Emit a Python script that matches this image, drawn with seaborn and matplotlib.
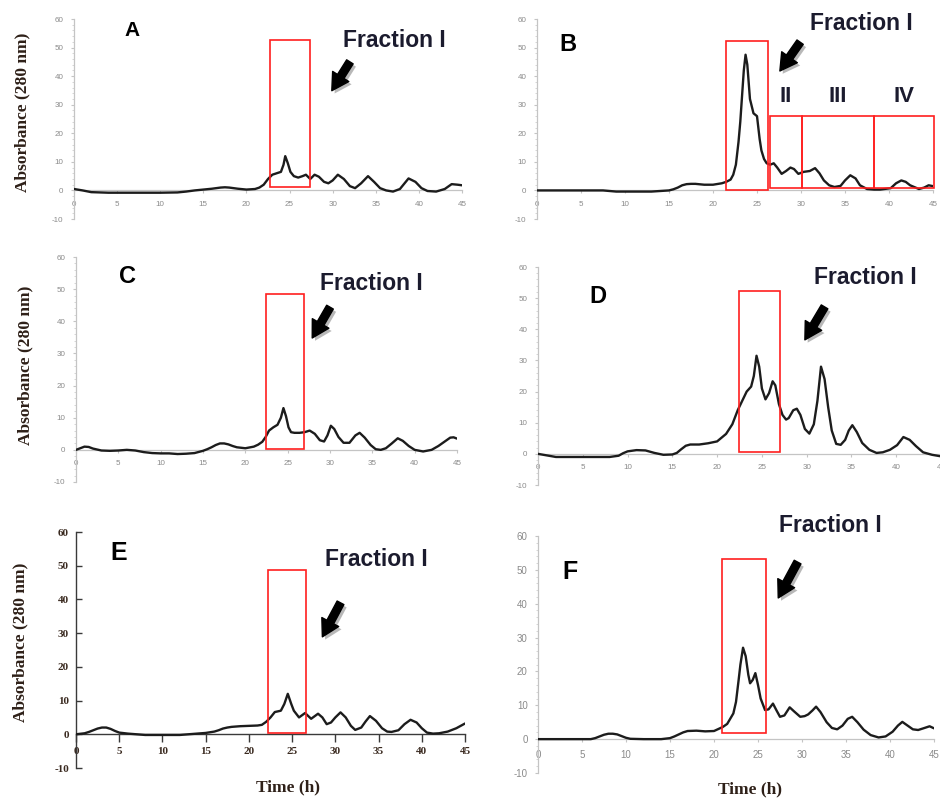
import matplotlib
matplotlib.use("Agg")
import matplotlib.pyplot as plt
import matplotlib.patheffects as pe
from matplotlib.patches import Rectangle, FancyArrowPatch
from matplotlib.ticker import MultipleLocator
import seaborn as sns

# ---------------- elution profiles (time in h, absorbance at 280 nm) ----------------
time_a = [0, 1, 2, 4, 6, 8, 10, 12, 13, 14, 15, 16, 17, 17.5, 18, 19, 20, 21, 21.5, 22,
          22.5, 23, 23.5, 24, 24.3, 24.5, 24.8, 25.1, 25.5, 26, 26.5, 26.9, 27.4, 27.9, 28.4,
          29, 29.5, 30, 30.6, 31.3, 32, 32.6, 33.3, 34.1, 34.8, 35.5, 36.2, 37, 37.8, 38.8,
          39.6, 40.3, 41, 42, 43, 43.8, 44.5, 45]
abs_a = [0.5, 0, -0.6, -0.8, -0.8, -0.8, -0.8, -0.7, -0.4, 0, 0.3, 0.6, 1.0, 1.1, 1.0, 0.6,
         0.3, 0.5, 1.0, 2.0, 4.0, 5.5, 6.0, 6.5, 9.0, 12.0, 9.5, 6.5, 5.0, 4.5, 5.0, 5.5, 4.0,
         5.5, 4.8, 3.0, 2.5, 3.5, 5.5, 4.0, 1.5, 0.8, 2.5, 5.0, 3.0, 0.8, 0.0, -0.4, 0.5, 4.2,
         3.0, 0.8, -0.2, -0.4, 0.5, 2.2, 2.0, 1.8]

time_b = [0, 3, 6, 7.5, 9, 11, 13, 14, 15, 15.5, 16, 16.5, 17, 17.5, 18, 19, 20, 21, 21.5, 22,
          22.3, 22.6, 22.9, 23.1, 23.3, 23.5, 23.7, 23.9, 24.2, 24.6, 25.0, 25.3, 25.5, 25.8,
          26.1, 26.5, 26.9, 27.3, 27.8, 28.3, 28.8, 29.2, 29.7, 30.3, 31, 31.6, 32.1, 32.6,
          33.2, 33.8, 34.5, 35, 35.6, 36.2, 36.7, 37.5, 38.3, 39, 40.2, 40.8, 41.4, 41.9, 42.4,
          43.4, 44, 44.5, 45]
abs_b = [0, 0, 0, 0, -0.4, -0.4, -0.4, -0.2, 0, 0.4, 1.0, 1.8, 2.2, 2.3, 2.3, 2.0, 2.0, 2.5,
         3.0, 3.8, 5.5, 9.0, 17.0, 24.0, 33.0, 42.0, 47.5, 44.0, 32.0, 27.0, 26.0, 18.0, 14.0,
         11.0, 9.5, 9.0, 9.5, 8.0, 5.8, 6.8, 8.0, 7.5, 5.8, 6.5, 6.8, 7.8, 6.0, 3.5, 1.8, 1.2,
         1.6, 3.5, 5.3, 4.2, 1.8, 0.5, 0.3, 0.3, 0.8, 2.5, 3.5, 3.0, 1.8, 0.5, 1.0, 1.8, 1.5]

time_c = [0, 0.5, 1, 1.5, 2, 3, 4, 5, 6, 7, 8, 9, 10, 11, 12, 13, 14, 15, 15.5, 16, 16.5, 17,
          17.5, 18, 18.5, 19, 20, 21, 21.5, 22, 22.4, 22.8, 23.3, 23.8, 24.2, 24.5, 24.8, 25.1,
          25.4, 25.8, 26.4, 27, 27.6, 28.2, 28.8, 29.3, 29.7, 30.1, 30.5, 31, 31.6, 32.3, 33,
          33.5, 34.1, 34.8, 35.4, 36, 36.6, 37.3, 38, 38.6, 39.3, 40, 41, 42, 42.8, 43.5, 44.2,
          44.6, 45]
abs_c = [0, 0.5, 1.0, 0.9, 0.4, -0.2, -0.3, -0.2, 0, -0.2, -0.7, -1.0, -1.1, -1.1, -1.3, -1.2,
         -1.0, -0.3, 0.2, 0.8, 1.5, 2.0, 2.0, 1.7, 1.2, 0.8, 0.5, 1.0, 1.6, 2.5, 4.0, 6.0, 7.0,
         7.8, 10.0, 13.0, 10.5, 7.0, 5.5, 5.3, 5.3, 5.5, 6.0, 5.0, 3.0, 2.6, 4.5, 7.5, 6.5, 4.0,
         2.2, 2.2, 4.5, 5.3, 3.8, 1.5, 0.2, 0.0, 0.5, 2.0, 3.6, 2.8, 1.2, 0.0, -0.5, 0.0, 1.2,
         2.5, 3.8, 3.9, 3.5]

time_d = [0, 1, 2, 4, 6, 8, 9, 9.5, 10, 11, 12, 13, 14, 15, 15.5, 16, 16.5, 17, 18, 19, 20, 21,
          21.7, 22.3, 22.8, 23.3, 23.8, 24.1, 24.4, 24.7, 25.0, 25.4, 25.8, 26.2, 26.5, 26.9,
          27.3, 27.7, 28.0, 28.5, 28.9, 29.3, 29.8, 30.3, 30.8, 31.2, 31.6, 32.0, 32.4, 32.8,
          33.3, 33.8, 34.3, 34.7, 35.1, 35.6, 36.2, 37, 37.8, 38.5, 39.3, 40.1, 40.8, 41.5,
          42.2, 43, 44, 45]
abs_d = [0, -0.5, -1, -1, -1, -1, -0.6, 0.2, 0.8, 1.2, 1.1, 0.3, -0.3, -0.2, 0.3, 1.5, 2.6,
         3.0, 3.0, 3.4, 4.0, 6.4, 9.5, 14.0, 17.0, 20.0, 21.6, 25.0, 31.5, 28.0, 21.0, 17.5,
         19.5, 23.3, 22.0, 16.0, 12.5, 11.0, 11.5, 14.0, 14.5, 12.5, 8.0, 6.5, 9.5, 17.0, 28.0,
         24.0, 15.0, 7.5, 3.2, 2.9, 4.5, 7.5, 9.2, 7.0, 3.5, 1.3, 0.3, 0.5, 1.3, 2.8, 5.4, 4.5,
         2.5, 0.5, -0.3, -0.8]

time_e = [0, 1, 1.5, 2, 2.5, 3, 3.5, 4, 4.5, 5, 6, 7, 8, 10, 12, 14, 15, 16, 16.5, 17, 17.5,
          18, 19, 20, 21, 21.5, 22, 22.5, 23, 23.7, 24.1, 24.5, 24.9, 25.2, 25.8, 26.5, 27.2,
          28, 28.5, 29, 29.5, 30, 30.6, 31.2, 31.8, 32.3, 33, 33.5, 34.0, 34.7, 35.4, 36, 36.5,
          37.3, 38, 38.7, 39.4, 40, 40.6, 41.3, 42, 43, 44, 45]
abs_e = [0, 0.3, 0.7, 1.2, 1.7, 2.0, 2.0, 1.6, 1.0, 0.5, 0.2, 0, -0.2, -0.2, -0.2, 0.2, 0.4,
         0.8, 1.2, 1.7, 2.0, 2.2, 2.4, 2.5, 2.6, 2.8, 3.7, 5.0, 6.6, 7.0, 9.0, 12.0, 9.0, 7.0,
         5.0, 6.3, 4.6, 6.1, 5.0, 3.0, 3.5, 5.0, 6.5, 5.0, 2.5, 1.3, 2.0, 3.8, 5.4, 4.0, 1.8,
         0.8, 0.7, 1.2, 3.0, 4.3, 3.5, 1.8, 0.5, 0.2, 0.3, 0.8, 1.8, 3.2]

time_f = [0, 2, 4, 6, 6.5, 7, 7.5, 8, 8.5, 9, 9.5, 10, 10.5, 12, 14, 15, 15.5, 16, 16.5, 17, 18,
          19, 20, 21, 21.5, 22.2, 22.5, 22.8, 23.0, 23.3, 23.6, 23.9, 24.1, 24.4, 24.7, 25.0,
          25.3, 25.8, 26.2, 26.7, 27.1, 27.5, 28.0, 28.6, 29.1, 29.8, 30.3, 30.7, 31.2, 31.6,
          32.1, 32.8, 33.4, 34.0, 34.6, 35.2, 35.7, 36.3, 37.0, 37.8, 38.7, 39.5, 40.3, 40.9,
          41.4, 42.0, 42.6, 43.2, 43.8, 44.5, 45]
abs_f = [0, 0, 0, 0, 0.3, 0.8, 1.3, 1.6, 1.6, 1.4, 0.9, 0.4, 0.1, 0, 0, 0.3, 0.8, 1.4, 2.0,
         2.4, 2.5, 2.3, 2.4, 3.6, 4.5, 7.6, 11.0, 17.5, 22.0, 27.0, 24.5, 19.0, 16.5, 17.5,
         19.5, 16.0, 12.0, 8.6, 8.8, 10.5, 8.5, 6.6, 7.0, 9.4, 8.2, 6.6, 6.8, 7.3, 8.5, 9.6,
         8.0, 5.0, 3.3, 2.9, 4.0, 6.0, 6.6, 5.0, 2.8, 1.2, 0.5, 0.8, 2.2, 4.0, 5.1, 4.0, 2.9,
         2.7, 3.2, 3.8, 3.2]

profiles = {
    "A": (time_a, abs_a), "B": (time_b, abs_b), "C": (time_c, abs_c),
    "D": (time_d, abs_d), "E": (time_e, abs_e), "F": (time_f, abs_f),
}

# collected fractions: (label, t_start, t_end, y_low, y_high)
fractions_a = [("I", 22.7, 27.4, 1.3, 52.5)]
fractions_b = [("I", 21.5, 26.2, 0.0, 52.3), ("II", 26.5, 30.1, 0.7, 26.1),
               ("III", 30.1, 38.3, 0.7, 26.1), ("IV", 38.3, 45.1, 0.7, 26.1)]
fractions_c = [("I", 22.4, 26.9, 0.3, 48.5)]
fractions_d = [("I", 22.4, 27.0, 0.6, 52.3)]
fractions_e = [("I", 22.2, 26.6, 0.3, 48.7)]
fractions_f = [("I", 20.9, 25.9, 1.7, 53.2)]
fractions = {"A": fractions_a, "B": fractions_b, "C": fractions_c,
             "D": fractions_d, "E": fractions_e, "F": fractions_f}

time_ticks = [0, 5, 10, 15, 20, 25, 30, 35, 40, 45]
abs_ticks = [-10, 0, 10, 20, 30, 40, 50, 60]

# ---------------- layout ----------------
sns.set_theme(style="white")
plt.rcParams["font.family"] = ["Liberation Sans", "DejaVu Sans"]
plt.rcParams["axes.unicode_minus"] = False

W, H = 940, 798
fig = plt.figure(figsize=(W / 100, H / 100), dpi=100)
fig.patch.set_facecolor("white")

# axes frames in pixels: x of t=0, x of t=45, y of A=60, y of A=-10
frames = {
    "A": (74, 462, 19, 219), "B": (537, 933, 19, 219),
    "C": (76, 457, 257, 482), "D": (538, 941, 267, 485),
    "E": (76, 465, 532, 768), "F": (538, 934, 536, 773),
}

# annotation placement in data units
letter_pos = {"A": (6.7, 55.9, 15), "B": (3.5, 51.2, 17), "C": (6.1, 53.8, 17),
              "D": (6.7, 50.4, 17), "E": (4.9, 53.8, 18), "F": (3.6, 49.4, 18)}
title_pos = {"A": (37.1, 52.4), "B": (36.9, 58.6), "C": (34.9, 51.9),
             "D": (36.6, 56.5), "E": (34.8, 51.7), "F": (33.2, 63.2)}
arrow_pos = {"A": ((32.0, 45.0), (29.9, 34.9)), "B": ((29.9, 51.9), (27.6, 41.8)),
             "C": ((30.0, 44.4), (27.9, 34.8)), "D": ((32.0, 47.2), (29.8, 36.6)),
             "E": ((30.6, 39.0), (28.5, 28.9)), "F": ((29.5, 52.3), (27.3, 41.7))}
roman_y = 32.7

TXT = "#1b1b2e"
LINE = "#1c1c1c"
RED = "#ff1f1f"


def make_axes(key):
    x0, x1, ytop, ybot = frames[key]
    ax = fig.add_axes([x0 / W, 1 - ybot / H, (x1 - x0) / W, (ybot - ytop) / H])
    ax.set_xlim(0, 45)
    ax.set_ylim(-10, 60)
    ax.patch.set_alpha(0)
    for s in ("top", "right"):
        ax.spines[s].set_visible(False)
    ax.spines["bottom"].set_position(("data", 0))
    ax.set_xticks(time_ticks)
    ax.set_yticks(abs_ticks)
    strong = key == "E"
    col = "#3a3a3a" if strong else "#c4c4c4"
    for s in ("left", "bottom"):
        ax.spines[s].set_color(col)
        ax.spines[s].set_linewidth(1.0 if strong else 0.9)
    if strong:
        ax.tick_params(axis="x", bottom=True, direction="out", length=6, width=1,
                       color=col, pad=3, labelsize=8, labelcolor="#3a2a20")
        ax.tick_params(axis="y", left=True, direction="in", length=4, width=1,
                       color=col, pad=5, labelsize=8, labelcolor="#3a2a20")
        for lab in ax.get_xticklabels() + ax.get_yticklabels():
            lab.set_family(["Liberation Serif", "DejaVu Serif"])
            lab.set_fontweight("bold")
    else:
        size = 7 if key == "F" else 5.8
        ax.yaxis.set_minor_locator(MultipleLocator(2))
        ax.tick_params(axis="x", bottom=True, direction="out", length=2.5, width=0.8,
                       color=col, pad=5, labelsize=size, labelcolor="#8a8a8a")
        ax.tick_params(axis="y", which="major", left=True, direction="out", length=2.5,
                       width=0.8, color=col, pad=5, labelsize=size, labelcolor="#8a8a8a")
        ax.tick_params(axis="y", which="minor", left=True, direction="out", length=1.5,
                       width=0.6, color="#d0d0d0")
    ax.set_xlabel("")
    ax.set_ylabel("")
    return ax


for key, (t, a) in profiles.items():
    ax = make_axes(key)
    sns.lineplot(x=t, y=a, ax=ax, color=LINE, linewidth=1.7, errorbar=None, sort=False,
                 zorder=3)
    ax.set_xlabel("")
    ax.set_ylabel("")

    for lab, t0, t1, y0, y1 in fractions[key]:
        ax.add_patch(Rectangle((t0, y0), t1 - t0, y1 - y0, fill=False, edgecolor=RED,
                               linewidth=1.2, clip_on=False, zorder=4))
        if lab != "I":
            ax.text((t0 + t1) / 2, roman_y, lab, ha="center", va="center", fontsize=16,
                    fontweight="bold", color=TXT, clip_on=False)

    lx, ly, ls = letter_pos[key]
    ax.text(lx, ly, key, ha="center", va="center", fontsize=ls, fontweight="bold",
            color="black", clip_on=False)
    tx, ty = title_pos[key]
    ax.text(tx, ty, "Fraction I", ha="center", va="center", fontsize=16.5,
            fontweight="bold", color=TXT, clip_on=False)

    tail, tip = arrow_pos[key]
    arr = FancyArrowPatch(tail, tip, transform=ax.transData,
                          arrowstyle="simple,head_length=1.1,head_width=1.25,tail_width=0.5",
                          mutation_scale=11, color="black", shrinkA=0, shrinkB=0,
                          clip_on=False, zorder=5)
    arr.set_path_effects([pe.SimplePatchShadow(offset=(2, -2), shadow_rgbFace="0.45",
                                               alpha=0.5), pe.Normal()])
    ax.add_patch(arr)


def px(x, y):
    return x / W, 1 - y / H


serif = ["Liberation Serif", "DejaVu Serif"]
for (x, y) in [(22, 112), (25, 365), (20, 642)]:
    fig.text(*px(x, y), "Absorbance (280 nm)", rotation=90, ha="center", va="center",
             fontsize=12.5, fontweight="bold", family=serif, color="#2e2018")
for (x, y) in [(288, 787), (750, 789)]:
    fig.text(*px(x, y), "Time (h)", ha="center", va="center", fontsize=12.5,
             fontweight="bold", family=serif, color="#2e2018")

fig.savefig("out.png", dpi=100, facecolor="white")
